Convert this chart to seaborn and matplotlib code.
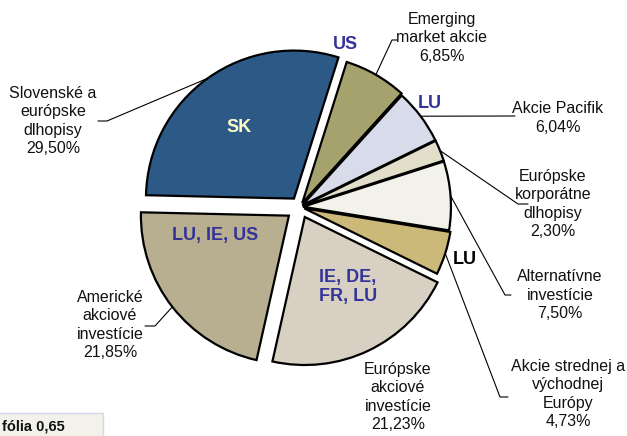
"""
Portfolio allocation pie chart (exploded, with leader lines)
"""

import numpy as np
import matplotlib
matplotlib.use("Agg")
import matplotlib.pyplot as plt
from matplotlib.patches import Rectangle
import seaborn as sns

# data, clockwise from the top
labels = ['Emerging\nmarket akcie', 'Akcie Pacifik', 'Európske\nkorporátne\ndlhopisy',
          'Alternatívne\ninvestície', 'Akcie strednej a\nvýchodnej\nEurópy',
          'Európske\nakciové\ninvestície', 'Americké\nakciové\ninvestície',
          'Slovenské a\neurópske\ndlhopisy']
shares = [6.85, 6.04, 2.30, 7.50, 4.73, 21.23, 21.85, 29.50]
domicile = ['US', 'LU', '', '', 'LU', 'IE, DE,\nFR, LU', 'LU, IE, US', 'SK']
colors = ['#A6A26E', '#D8DBEA', '#E1DECA', '#F2F2EA', '#CBB979',
          '#D8D0C2', '#B8AE90', '#2D5986']
explode = [0.03, 0.02, 0.02, 0.02, 0.03, 0.075, 0.095, 0.07]

W, H = 627, 436
R = 148  # pie radius in pixels

def px(x, y):
    # pixel position (y down) -> data coords
    return x, H - y

sns.set_style("white")
plt.rcParams['font.family'] = ['Liberation Sans', 'DejaVu Sans']

fig = plt.figure(figsize=(W / 100, H / 100), dpi=100)
ax = fig.add_axes([0, 0, 1, 1])

# explode is an absolute offset in pie(), so scale it by the radius
wedges, _ = ax.pie(shares, colors=colors, explode=[e * R for e in explode],
                   startangle=72.5, counterclock=False, radius=R,
                   center=px(300, 207),
                   wedgeprops={'edgecolor': 'black', 'linewidth': 1.6})

# pie() resets the limits, so set the pixel frame afterwards
ax.set_xlim(0, W)
ax.set_ylim(0, H)
ax.set_aspect('equal')
ax.axis('off')

# outside labels: text centre, leader line elbow + end (pixels)
label_pos = [(442, 38), (558, 118), (553, 204), (560, 295), (568, 394),
             (398, 397), (110, 325), (53, 121)]
leaders = [[(392, 40), (397, 40)], [(515, 116)], [(518, 204), (528, 204)],
           [(505, 295), (511, 295)], [(500, 397), (508, 397)], None,
           [(155, 326), (145, 326)], [(107, 121), (98, 121)]]

for w, lab, val, pos, lead in zip(wedges, labels, shares, label_pos, leaders):
    ax.text(*px(*pos), f"{lab}\n{val:.2f}%".replace('.', ','),
            ha='center', va='center', fontsize=11.5, linespacing=1.28, color='#111111')
    if lead is None:
        continue
    mid = np.deg2rad((w.theta1 + w.theta2) / 2)
    cx, cy = w.center
    pts = [(cx + w.r * np.cos(mid), cy + w.r * np.sin(mid))] + [px(*p) for p in lead]
    xs, ys = zip(*pts)
    ax.plot(xs, ys, color='black', lw=0.8)

# domicile labels (pixels)
dom_pos = [(345, 45), (430, 103), None, None, (465, 260), (348, 287), (215, 236), (239, 128)]
dom_col = ['#333399', '#333399', None, None, 'black', '#333399', '#333399', '#FFFFCC']
for txt, pos, c in zip(domicile, dom_pos, dom_col):
    if pos is None:
        continue
    ax.text(*px(*pos), txt, ha='center', va='center', fontsize=13,
            fontweight='bold', color=c, linespacing=1.15)

# box in the lower left corner, partly cut off
ax.add_patch(Rectangle(px(-5, 440), 108, 27, facecolor='#F2F1EA',
                       edgecolor='#D4D6EA', lw=1, clip_on=False))
ax.text(*px(2, 426), 'fólia 0,65', ha='left', va='center', fontsize=10.5,
        fontweight='bold', color='#111111')

fig.savefig('out.png', dpi=100)
